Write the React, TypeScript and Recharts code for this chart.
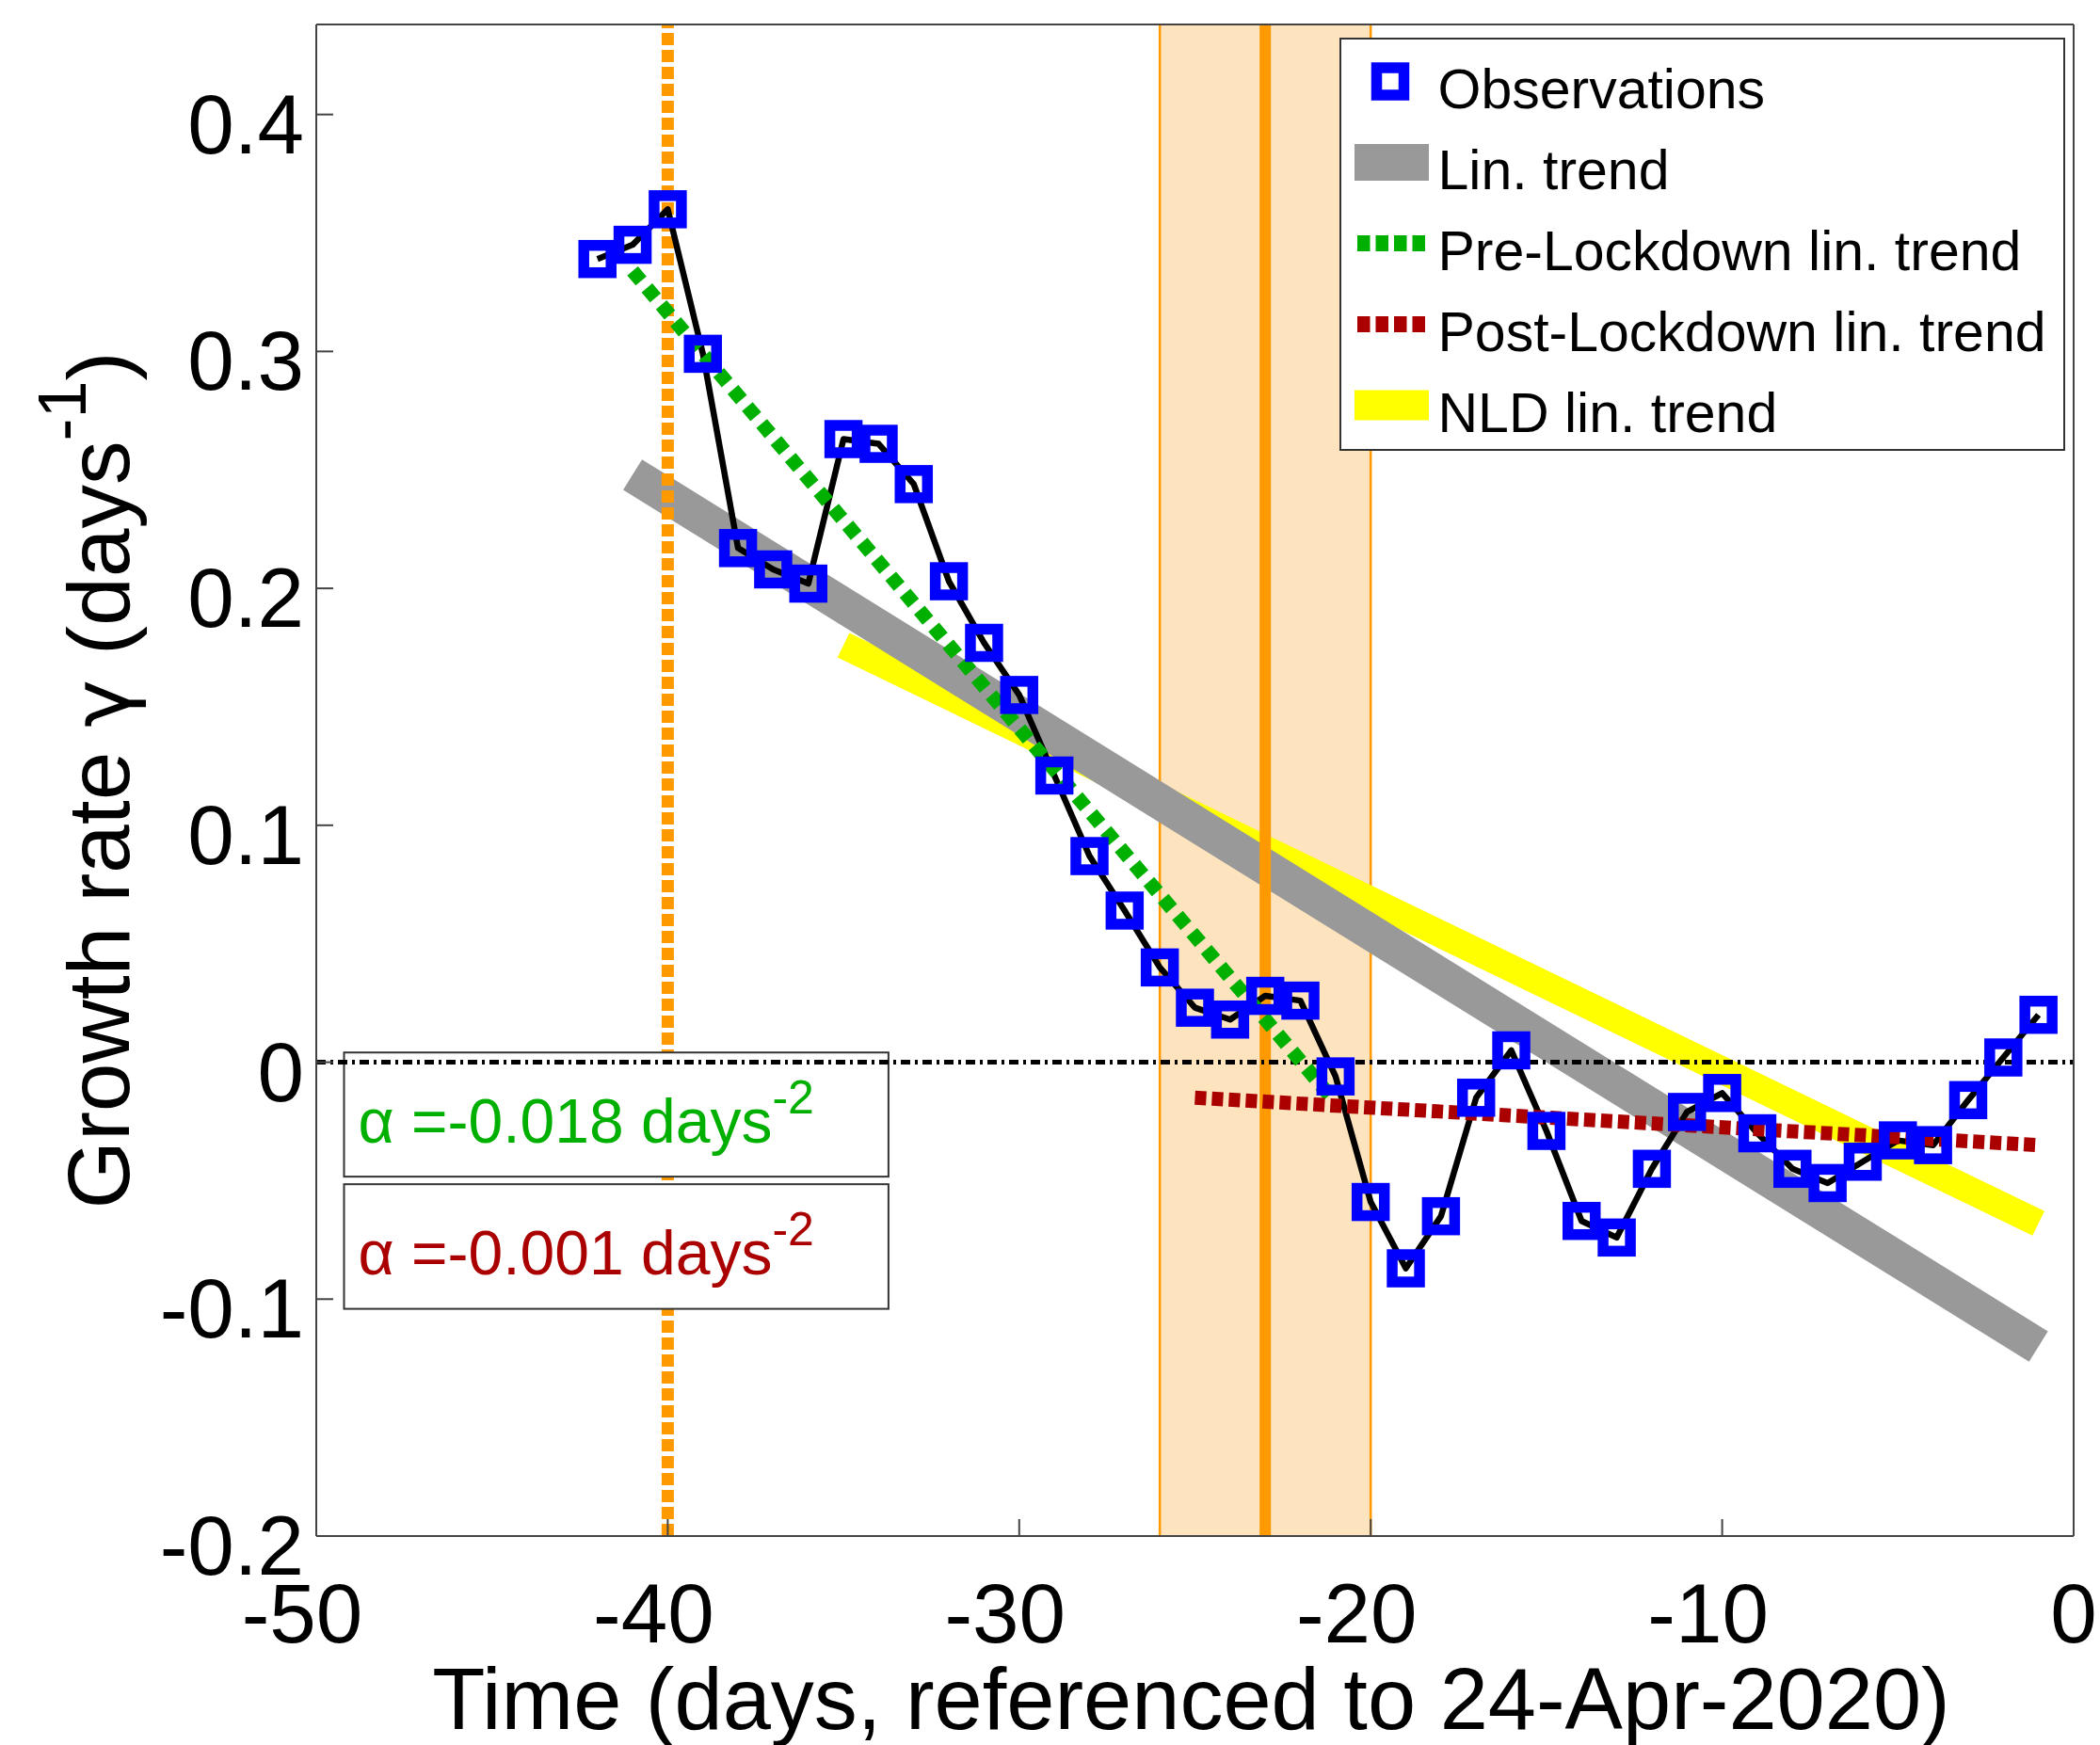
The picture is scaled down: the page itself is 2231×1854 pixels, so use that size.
import React from "react";
import {
  ComposedChart,
  Line,
  XAxis,
  YAxis,
  ReferenceLine,
  ReferenceArea,
  Legend,
} from "recharts";

// days, referenced to 24-Apr-2020
const days = [
  -42, -41, -40, -39, -38, -37, -36, -35, -34, -33, -32, -31, -30, -29,
  -28, -27, -26, -25, -24, -23, -22, -21, -20, -19, -18, -17, -16, -15,
  -14, -13, -12, -11, -10, -9, -8, -7, -6, -5, -4, -3, -2, -1,
];
const growthRate = [
  0.339, 0.345, 0.36, 0.299, 0.217, 0.208, 0.202, 0.263, 0.261, 0.244, 0.203, 0.177, 0.155, 0.121,
  0.087, 0.064, 0.04, 0.023, 0.018, 0.028, 0.026, -0.006, -0.059, -0.087, -0.065, -0.015, 0.005, -0.029,
  -0.067, -0.074, -0.045, -0.021, -0.013, -0.03, -0.045, -0.051, -0.042, -0.033, -0.035, -0.016, 0.002, 0.02,
];

// fitted trends (end points)
const linTrendDays = [-41, -1];
const linTrendRate = [0.248, -0.12];
const preLockdownDays = [-41, -21];
const preLockdownRate = [0.334, -0.017];
const postLockdownDays = [-25, -1];
const postLockdownRate = [-0.015, -0.035];
const nldDays = [-35, -1];
const nldRate = [0.176, -0.068];

const startDay = -40;
const lockdownDay = -23;
const lockdownWindow = [-26, -20];

const alphaPre = "-0.018";
const alphaPost = "-0.001";

const xTicks = [-50, -40, -30, -20, -10, 0];
const yTicks = [-0.2, -0.1, 0, 0.1, 0.2, 0.3, 0.4];
const legendLabels = [
  "Observations",
  "Lin. trend",
  "Pre-Lockdown lin. trend",
  "Post-Lockdown lin. trend",
  "NLD lin. trend",
];

const FONT = "'Liberation Sans', Arial, Helvetica, sans-serif";
const ORANGE = "#FF9900";
const PEACH = "#FDE3BE";
const GRAY = "#999999";
const YELLOW = "#FFFF00";
const GREEN = "#00B000";
const RED = "#AA0000";
const BLUE = "#0000FF";
const AXIS = "#444444";

const toPoints = (xs: number[], ys: number[]) => xs.map((x, i) => ({ x, y: ys[i] }));

const obsData = toPoints(days, growthRate);
const linData = toPoints(linTrendDays, linTrendRate);
const preData = toPoints(preLockdownDays, preLockdownRate);
const postData = toPoints(postLockdownDays, postLockdownRate);
const nldData = toPoints(nldDays, nldRate);

const XTick = (props: any) => {
  const { x, y, payload } = props;
  const v = payload.value;
  return (
    <text x={x + (v < 0 ? -15 : 0)} y={y + 113} textAnchor="middle" fontSize={89} fontFamily={FONT} fill="#000">
      {String(v)}
    </text>
  );
};

const YTick = (props: any) => {
  const { x, y, payload } = props;
  return (
    <text x={x - 13} y={y + 41} textAnchor="end" fontSize={89} fontFamily={FONT} fill="#000">
      {String(payload.value)}
    </text>
  );
};

const SquareDot = (props: any) => {
  const { cx, cy, index } = props;
  if (cx == null || cy == null) return <g key={`sq-${index}`} />;
  return (
    <rect
      key={`sq-${index}`}
      x={cx - 14.5}
      y={cy - 14.5}
      width={29}
      height={29}
      fill="none"
      stroke={BLUE}
      strokeWidth={11.5}
    />
  );
};

const YLabel = (props: any) => {
  const vb = props.viewBox;
  const cy = vb ? vb.y + vb.height / 2 : 829;
  const x = 137;
  return (
    <text
      transform={`rotate(-90, ${x}, ${cy})`}
      x={x}
      y={cy}
      textAnchor="middle"
      fontSize={93}
      fontFamily={FONT}
      fill="#000"
    >
      Growth rate <tspan fontFamily="'DejaVu Sans', sans-serif" fontSize={86}>γ</tspan> (days
      <tspan dy={-46} fontSize={72}>-1</tspan>
      <tspan dy={46} fontSize={93}>)</tspan>
    </text>
  );
};

const XLabel = (props: any) => {
  const vb = props.viewBox;
  const cx = vb ? vb.x + vb.width / 2 - 4 : 1265;
  const y = vb ? vb.y + 205 : 1837;
  return (
    <text x={cx} y={y} textAnchor="middle" fontSize={92} fontFamily={FONT} fill="#000">
      Time (days, referenced to 24-Apr-2020)
    </text>
  );
};

const alphaBox = (value: string, color: string) => (props: any) => {
  const { x, y, width, height } = props;
  return (
    <g>
      <rect x={x} y={y} width={width} height={height} fill="#fff" stroke="#333" strokeWidth={2} />
      <text x={x + 15} y={y + 96} fontSize={66} fontFamily={FONT} fill={color}>
        α ={value} days
        <tspan dy={-31} fontSize={50}>-2</tspan>
      </text>
    </g>
  );
};

const LegendBox = () => {
  const base = (i: number) => 75 + 86 * i;
  const mid = (i: number) => base(i) - 28.5;
  return (
    <svg width={772} height={440} style={{ display: "block" }}>
      <rect x={1} y={1} width={769} height={437} fill="#fff" stroke="#333" strokeWidth={2} />
      <rect x={39.5} y={mid(0) - 14.5} width={29} height={29} fill="none" stroke={BLUE} strokeWidth={11.5} />
      <line x1={16} x2={95} y1={mid(1)} y2={mid(1)} stroke={GRAY} strokeWidth={39} />
      <line x1={19} x2={95} y1={mid(2)} y2={mid(2)} stroke={GREEN} strokeWidth={17} strokeDasharray="13.5 6" />
      <line x1={19} x2={95} y1={mid(3)} y2={mid(3)} stroke={RED} strokeWidth={17} strokeDasharray="13.5 6" />
      <line x1={16} x2={95} y1={mid(4)} y2={mid(4)} stroke={YELLOW} strokeWidth={32} />
      {legendLabels.map((label, i) => (
        <text key={label} x={104.5} y={base(i)} fontSize={59} fontFamily={FONT} fill="#000">
          {label}
        </text>
      ))}
    </svg>
  );
};

export default function App() {
  return (
    <div style={{ position: "absolute", left: 0, top: 0 }}>
      <ComposedChart width={2231} height={1854} margin={{ top: 25, right: 27, bottom: 0, left: 0 }}>
        <XAxis
          dataKey="x"
          type="number"
          domain={[-50, 0]}
          ticks={xTicks}
          interval={0}
          allowDataOverflow
          height={222}
          tickSize={-18}
          tickMargin={18}
          tick={XTick}
          axisLine={{ stroke: AXIS, strokeWidth: 2 }}
          tickLine={{ stroke: AXIS, strokeWidth: 2 }}
          label={<XLabel />}
        />
        <XAxis
          xAxisId="top"
          orientation="top"
          dataKey="x"
          type="number"
          domain={[-50, 0]}
          ticks={xTicks}
          interval={0}
          allowDataOverflow
          height={1}
          tickSize={-18}
          tick={false}
          axisLine={{ stroke: AXIS, strokeWidth: 2 }}
          tickLine={{ stroke: AXIS, strokeWidth: 2 }}
        />
        <YAxis
          type="number"
          domain={[-0.2, 0.438]}
          ticks={yTicks}
          interval={0}
          allowDataOverflow
          width={336}
          tickSize={-18}
          tickMargin={18}
          tick={YTick}
          axisLine={{ stroke: AXIS, strokeWidth: 2 }}
          tickLine={{ stroke: AXIS, strokeWidth: 2 }}
          label={<YLabel />}
        />
        <YAxis
          yAxisId="right"
          orientation="right"
          type="number"
          domain={[-0.2, 0.438]}
          ticks={yTicks}
          interval={0}
          allowDataOverflow
          width={1}
          tickSize={-18}
          tick={false}
          axisLine={{ stroke: AXIS, strokeWidth: 2 }}
          tickLine={{ stroke: AXIS, strokeWidth: 2 }}
        />

        <ReferenceArea x1={lockdownWindow[0]} x2={lockdownWindow[1]} fill={PEACH} fillOpacity={1} stroke="none" zIndex={1} />
        <ReferenceLine x={lockdownWindow[0]} stroke={ORANGE} strokeWidth={2.5} zIndex={2} />
        <ReferenceLine x={lockdownWindow[1]} stroke={ORANGE} strokeWidth={2.5} zIndex={2} />

        <Line data={nldData} dataKey="y" name="NLD lin. trend" stroke={YELLOW} strokeWidth={29} dot={false} activeDot={false} isAnimationActive={false} zIndex={3} />
        <Line data={linData} dataKey="y" name="Lin. trend" stroke={GRAY} strokeWidth={38} dot={false} activeDot={false} isAnimationActive={false} zIndex={4} />

        <ReferenceLine x={startDay} stroke={ORANGE} strokeWidth={13} strokeDasharray="13 5" zIndex={5} />
        <ReferenceLine x={lockdownDay} stroke={ORANGE} strokeWidth={12} zIndex={6} />

        <ReferenceArea x1={-49.21} x2={-33.72} y1={0.0041} y2={-0.0483} ifOverflow="visible" shape={alphaBox(alphaPre, GREEN)} zIndex={7} />
        <ReferenceArea x1={-49.21} x2={-33.72} y1={-0.0515} y2={-0.1041} ifOverflow="visible" shape={alphaBox(alphaPost, RED)} zIndex={7} />

        <Line
          data={obsData}
          dataKey="y"
          name="Observations"
          stroke="#000"
          strokeWidth={6.5}
          strokeLinejoin="round"
          dot={SquareDot}
          activeDot={false}
          isAnimationActive={false}
          zIndex={8}
        />

        <ReferenceLine y={0} stroke="#000" strokeWidth={5} strokeDasharray="10 5 3 5" zIndex={9} />

        <Line data={preData} dataKey="y" name="Pre-Lockdown lin. trend" stroke={GREEN} strokeWidth={15} strokeDasharray="14 9.6" dot={false} activeDot={false} isAnimationActive={false} zIndex={10} />
        <Line data={postData} dataKey="y" name="Post-Lockdown lin. trend" stroke={RED} strokeWidth={15} strokeDasharray="12 6" dot={false} activeDot={false} isAnimationActive={false} zIndex={11} />

        <Legend
          layout="vertical"
          align="center"
          verticalAlign="middle"
          content={() => <LegendBox />}
          wrapperStyle={{ position: "absolute", left: 1423, top: 40, width: 772, height: 440, margin: 0, padding: 0 }}
        />
      </ComposedChart>
    </div>
  );
}
